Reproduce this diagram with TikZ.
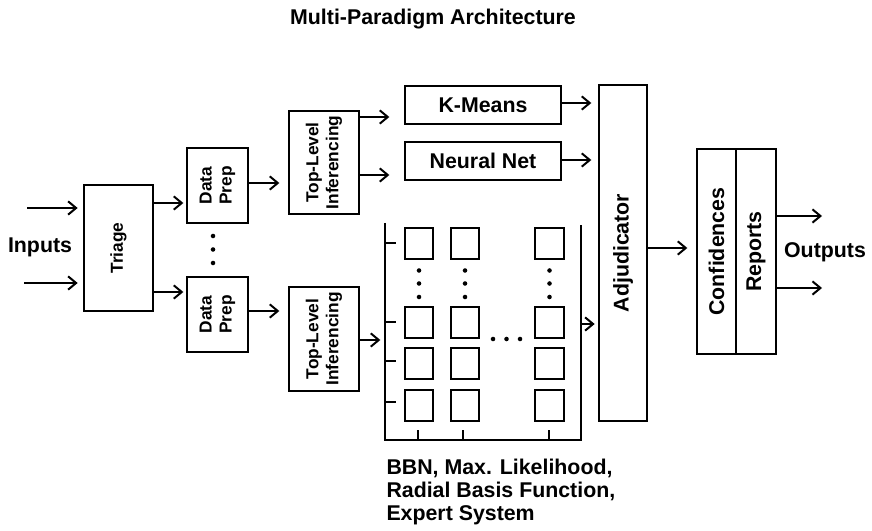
\documentclass[tikz,border=0pt]{standalone}
\usepackage{fontspec}
\setmainfont{Liberation Sans}
\usetikzlibrary{arrows.meta}

\tikzset{
  box/.style={draw, line width=1.5pt, inner sep=0pt},
  sq/.style={draw, line width=1.5pt, minimum width=21.4pt, minimum height=23.25pt, inner sep=0pt},
  big/.style={font=\bfseries\fontsize{16}{17}\selectfont},
  small/.style={font=\bfseries\fontsize{13}{15}\selectfont},
  vtxt/.style={rotate=90, align=center, small},
  arr/.style={line width=1.5pt, -{Straight Barb[length=6pt,width=10pt]}},
  dot/.style={circle, fill, inner sep=0pt, minimum size=3.4pt},
}

\begin{document}
\begin{tikzpicture}[x=0.75pt,y=-0.75pt,line width=1.5pt]
\useasboundingbox (0,0) rectangle (872,531);
\node[big] (title) at (433,19) {Multi-Paradigm Architecture};
\node[big] (inputs) at (40,247) {Inputs};
\node[big] (outputs) at (825,252) {Outputs};
% boxes
\node[box, minimum width=51.75pt, minimum height=94.5pt] (triage) at (118.5,248) {};
\node[vtxt] at (triage) {Triage};
\node[box, minimum width=45.75pt, minimum height=56.25pt] (dp1) at (217.5,185.5) {};
\node[vtxt] at (dp1) {Data\\Prep};
\node[box, minimum width=45.75pt, minimum height=56.25pt] (dp2) at (217.5,314.5) {};
\node[vtxt] at (dp2) {Data\\Prep};
\node[box, minimum width=52.5pt, minimum height=77.6pt] (tli1) at (324,162.5) {};
\node[vtxt] at (tli1) {Top-Level\\Inferencing};
\node[box, minimum width=52.5pt, minimum height=78pt] (tli2) at (324,339) {};
\node[vtxt] at (tli2) {Top-Level\\Inferencing};
\node[box, big, minimum width=117pt, minimum height=28.5pt] (km) at (483,105) {K-Means};
\node[box, big, minimum width=117pt, minimum height=28.5pt] (nn) at (483,161) {Neural Net};
\node[box, minimum width=36pt, minimum height=252pt] (adj) at (623,253) {};
\node[vtxt, big] at (adj) {Adjudicator};
\node[box, minimum width=29.25pt, minimum height=153.75pt] (conf) at (716.5,251.5) {};
\node[vtxt, big] at (conf) {Confidences};
\node[box, minimum width=30pt, minimum height=153.75pt] (rep) at (756,251.5) {};
\node[vtxt, big] at (rep) {Reports};
% grid of classifiers
\foreach \cx [count=\i] in {419,465,549.5}
  \foreach \cy [count=\j] in {243.5,322.5,363.5,405}
    \node[sq] (c\i\j) at (\cx,\cy) {};
\draw (385,223) -- (385,440) -- (581,440) -- (581,225);
\foreach \cy in {243,322,361,402}
  \draw (385,\cy) -- (396,\cy);
\foreach \cx in {418,463,549}
  \draw (\cx,440) -- (\cx,430);
\foreach \cx in {419,465,549.5}
  \foreach \cy in {270.5,283.5,297}
    \node[dot] at (\cx,\cy) {};
\foreach \cx in {493,506.5,520}
  \node[dot] at (\cx,339) {};
\foreach \cy in {236,249.5,263}
  \node[dot] at (213,\cy) {};
\coordinate (gridL) at (385,340);
\coordinate (gridR) at (581,324);
\node[big, align=left, anchor=north west, inner sep=0pt] (cap) at (385.5,458.5)
  {BBN, Max. Likelihood,\\Radial Basis Function,\\Expert System};
% connectors
\coordinate (in1) at (27,208);
\coordinate (in2) at (24,283);
\draw[arr, shorten >=4pt] (in1) -- (in1 -| triage.west);
\draw[arr, shorten >=4pt] (in2) -- (in2 -| triage.west);
\draw[arr, shorten >=2pt] (triage.east |- 0,203) -- (dp1.west |- 0,203);
\draw[arr, shorten >=2pt] (triage.east |- 0,292) -- (dp2.west |- 0,292);
\draw[arr, shorten >=6.5pt] (dp1.east |- 0,183) -- (tli1.west |- 0,183);
\draw[arr, shorten >=6.5pt] (dp2.east |- 0,311) -- (tli2.west |- 0,311);
\draw[arr, shorten >=11pt] (tli1.east |- 0,117) -- (km.west |- 0,117);
\draw[arr, shorten >=11pt] (tli1.east |- 0,175) -- (nn.west |- 0,175);
\draw[arr, shorten >=3.5pt] (tli2.east |- gridL) -- (gridL);
\draw[arr, shorten >=5pt] (km.east |- 0,103) -- (adj.west |- 0,103);
\draw[arr, shorten >=5pt] (nn.east |- 0,160) -- (adj.west |- 0,160);
\draw[arr, shorten >=2.5pt] (gridR) -- (adj.west |- gridR);
\draw[arr, shorten >=6.5pt] (adj.east |- 0,248) -- (conf.west |- 0,248);
\coordinate (out1) at (822,216);
\coordinate (out2) at (822,288);
\draw[arr] (rep.east |- out1) -- (out1);
\draw[arr] (rep.east |- out2) -- (out2);
\end{tikzpicture}
\end{document}
